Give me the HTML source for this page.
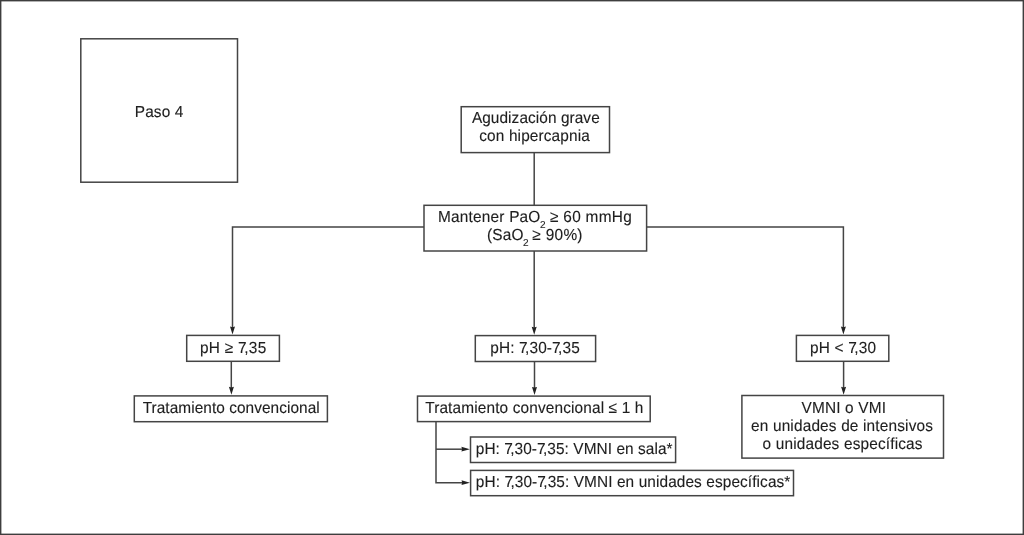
<!DOCTYPE html>
<html><head><meta charset="utf-8">
<style>
html,body{margin:0;padding:0;background:#fff;}
body{width:1024px;height:535px;overflow:hidden;}
svg{display:block;}
text{font-family:"Liberation Sans",sans-serif;text-rendering:geometricPrecision;fill:#1e1e1e;stroke:#1e1e1e;stroke-width:0.12px;}
svg{filter:grayscale(1);}
</style></head><body>
<svg width="1024" height="535" viewBox="0 0 1024 535">
<rect x="0" y="0" width="1024" height="535" fill="#fff"/>
<rect x="0.7" y="0.7" width="1022.6" height="533.6" fill="none" stroke="#3e3e3e" stroke-width="1.4"/>

<g fill="none" stroke="#444" stroke-width="1.5">
<rect x="80.8" y="38.8" width="156.7" height="143.4"/>
<rect x="461.2" y="106.7" width="148.3" height="45.9"/>
<rect x="424.0" y="205.3" width="222.6" height="45.7"/>
<rect x="186.7" y="335.4" width="92.7" height="25.9"/>
<rect x="134.3" y="395.9" width="193.1" height="25.8"/>
<rect x="475.3" y="335.6" width="120.3" height="25.9"/>
<rect x="417.5" y="396.1" width="232.7" height="25.5"/>
<rect x="470.5" y="437.0" width="205.1" height="25.5"/>
<rect x="470.6" y="470.4" width="322.9" height="25.3"/>
<rect x="796.4" y="335.4" width="92.4" height="25.9"/>
<rect x="741.9" y="395.5" width="201.6" height="62.6"/>
<path d="M534.2 152.6V205.3"/>
<path d="M232.5 330V227H424"/>
<path d="M646.6 227H843.4V330"/>
<path d="M534.2 251V330"/>
<path d="M231.3 361.3V390"/>
<path d="M534.5 361.5V390"/>
<path d="M843.6 361.3V390"/>
<path d="M436 421.6V482.7H464"/>
<path d="M436 449.2H464"/>
</g>
<g fill="#222">
<path d="M232.50 334.60L230.00 326.60L232.50 327.30L235.00 326.60Z"/>
<path d="M534.20 334.80L531.70 326.80L534.20 327.50L536.70 326.80Z"/>
<path d="M843.40 334.60L840.90 326.60L843.40 327.30L845.90 326.60Z"/>
<path d="M231.40 394.80L228.90 386.80L231.40 387.50L233.90 386.80Z"/>
<path d="M534.50 394.90L532.00 386.90L534.50 387.60L537.00 386.90Z"/>
<path d="M843.60 394.70L841.10 386.70L843.60 387.40L846.10 386.70Z"/>
<path d="M469.90 449.20L461.40 446.80L462.10 449.20L461.40 451.60Z"/>
<path d="M470.00 482.70L461.50 480.30L462.20 482.70L461.50 485.10Z"/>
</g>
<g font-size="15.4">
<text transform="matrix(1 0 0 1.04 0 -4.672)" x="134.8" y="116.8" textLength="48.52" lengthAdjust="spacing">Paso 4</text>
<text transform="matrix(1 0 0 1.04 0 -4.928)" x="471.9" y="123.2" textLength="127.79" lengthAdjust="spacing">Agudización grave</text>
<text transform="matrix(1 0 0 1.04 0 -5.648)" x="479.25" y="141.2" textLength="110.57" lengthAdjust="spacing">con hipercapnia</text>
<text transform="matrix(1 0 0 1.04 0 -8.872)" x="438.05" y="221.8" textLength="102.29" lengthAdjust="spacing">Mantener PaO</text>
<text transform="matrix(1 0 0 1.04 0 -8.872)" x="550.0" y="221.8" textLength="81.74" lengthAdjust="spacing">≥ 60 mmHg</text>
<text transform="matrix(1 0 0 1.04 0 -9.600)" x="487.0" y="240.0" textLength="36.57" lengthAdjust="spacing">(SaO</text>
<text transform="matrix(1 0 0 1.04 0 -9.600)" x="532.3" y="240.0" textLength="50.21" lengthAdjust="spacing">≥ 90%)</text>
<text transform="matrix(1 0 0 1.04 0 -14.116)" x="199.9" y="352.9" textLength="66.29" lengthAdjust="spacing">pH ≥ 7<tspan dx="-2.7">,</tspan>35</text>
<text transform="matrix(1 0 0 1.04 0 -14.116)" x="490.2" y="352.9" textLength="89.6" lengthAdjust="spacing">pH: 7<tspan dx="-2.7">,</tspan>30-7<tspan dx="-2.7">,</tspan>35</text>
<text transform="matrix(1 0 0 1.04 0 -14.116)" x="809.9" y="352.9" textLength="66.19" lengthAdjust="spacing">pH &lt; 7<tspan dx="-2.7">,</tspan>30</text>
<text transform="matrix(1 0 0 1.04 0 -16.504)" x="142.65" y="412.6" textLength="177.07" lengthAdjust="spacing">Tratamiento convencional</text>
<text transform="matrix(1 0 0 1.04 0 -16.508)" x="425.15" y="412.7" textLength="218.16" lengthAdjust="spacing">Tratamiento convencional ≤ 1 h</text>
<text transform="matrix(1 0 0 1.04 0 -18.144)" x="475.8" y="453.6" textLength="196.77" lengthAdjust="spacing">pH: 7<tspan dx="-2.7">,</tspan>30-7<tspan dx="-2.7">,</tspan>35: VMNI en sala*</text>
<text transform="matrix(1 0 0 1.04 0 -19.480)" x="475.8" y="487.0" textLength="314.57" lengthAdjust="spacing">pH: 7<tspan dx="-2.7">,</tspan>30-7<tspan dx="-2.7">,</tspan>35: VMNI en unidades específicas*</text>
<text transform="matrix(1 0 0 1.04 0 -16.516)" x="801.55" y="412.9" textLength="84.4" lengthAdjust="spacing">VMNI o VMI</text>
<text transform="matrix(1 0 0 1.04 0 -17.232)" x="751.05" y="430.8" textLength="181.88" lengthAdjust="spacing">en unidades de intensivos</text>
<text transform="matrix(1 0 0 1.04 0 -17.952)" x="762.55" y="448.8" textLength="159.98" lengthAdjust="spacing">o unidades específicas</text>
</g>
<g font-size="10">
<text x="539.9" y="227.6">2</text>
<text x="523.0" y="245.6">2</text>
</g>
</svg></body></html>
